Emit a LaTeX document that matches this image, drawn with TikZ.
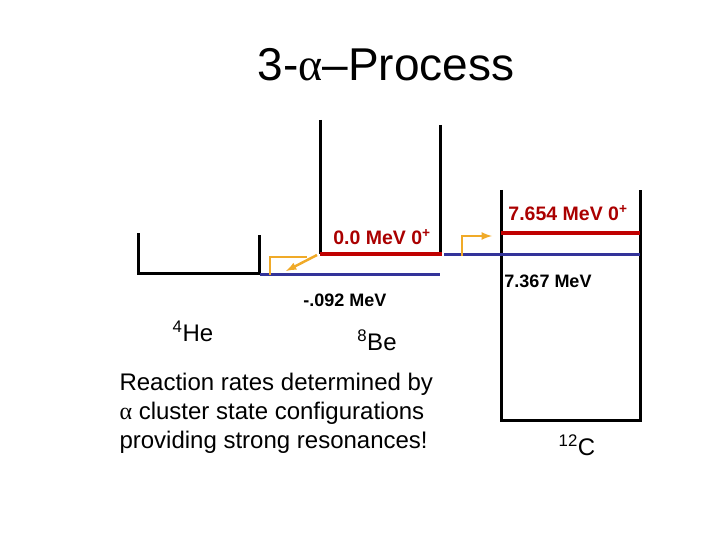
\documentclass[tikz,border=0pt]{standalone}
\usepackage{fontspec}
\setmainfont{Liberation Sans}
\newfontfamily\serf{Liberation Serif}
\begin{document}
\begin{tikzpicture}[x=1pt,y=-1pt,
 wall/.style={line width=3pt,black},
 red/.style={line width=3.5pt,color={rgb,255:red,192;green,0;blue,0}},
 blue/.style={line width=3pt,color={rgb,255:red,51;green,51;blue,153}},
 orng/.style={line width=2.5pt,color={rgb,255:red,240;green,170;blue,40}},
 lbl/.style={font=\bfseries\fontsize{19.5}{21}\selectfont,color={rgb,255:red,170;green,0;blue,0}},
 txt/.style={font=\fontsize{24}{29}\selectfont}]
\useasboundingbox (0,0) rectangle (720,540);
\node (title) at (386,65) {\fontsize{46}{50}\selectfont 3-{\serf α}--Process};
\draw[wall] (138,233) -- (138,273) -- (259,273) -- (259,235);
\draw[wall] (320,120) -- (320,254);
\draw[wall] (440,125) -- (440,254);
\draw[red] (320,254) -- (442,254);
\draw[blue] (260,274) -- (440,274);
\draw[wall] (501,190) -- (501,420) -- (640,420) -- (640,190);
\draw[red] (501,233) -- (640,233);
\draw[blue] (444,254) -- (640,254);
\draw[orng] (270,275) -- (270,257) -- (307,257);
\draw[orng,-latex] (317,255) -- (286,271);
\draw[orng,-latex] (462,256) -- (462,236) -- (492,236);
\node[lbl] (l1) at (382,237) {0.0 MeV 0\textsuperscript{+}};
\node[lbl] (l2) at (568,213) {7.654 MeV 0\textsuperscript{+}};
\node[font=\bfseries\fontsize{18}{19}\selectfont] (l3) at (548,281) {7.367 MeV};
\node[font=\bfseries\fontsize{18}{19}\selectfont] (l4) at (345,300) {-.092 MeV};
\node[txt] (he) at (193,331) {\textsuperscript{4}He};
\node[txt] (be) at (377,340) {\textsuperscript{8}Be};
\node[txt] (c) at (577,445) {\textsuperscript{12}C};
\node[txt,anchor=west,align=left] (r) at (116,413) {Reaction rates determined by\\{\serf α} cluster state configurations\\providing strong resonances!};
\end{tikzpicture}
\end{document}
